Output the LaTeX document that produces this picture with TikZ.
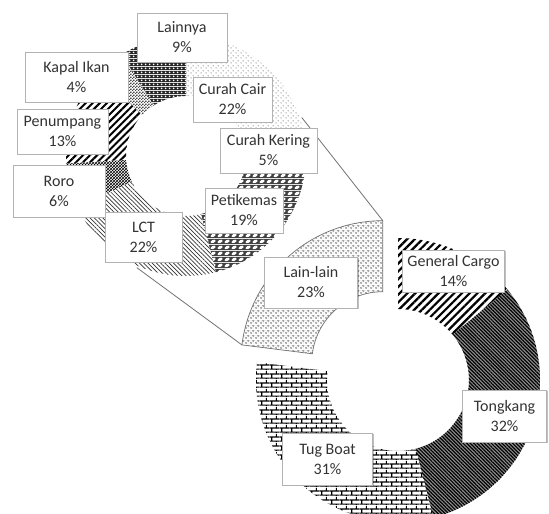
\documentclass[tikz,border=0pt]{standalone}
\usepackage{fontspec}
\setmainfont{Carlito}
\usetikzlibrary{patterns,patterns.meta,shadows,calc}

\tikzdeclarepattern{name=tugbricks, type=colored,
  bounding box={(0pt,0pt) and (10pt,9pt)}, tile size={(10pt,9pt)},
  code={
    \fill[white] (0pt,0pt) rectangle (10pt,9pt);
    \draw[line width=1.3pt, black] (0pt,1pt) -- (10pt,1pt) (0pt,5.5pt) -- (10pt,5.5pt)
      (2pt,1pt) -- (2pt,5.5pt) (7pt,5.5pt) -- (7pt,9pt) (7pt,0pt) -- (7pt,1pt);
  }}
\tikzdeclarepattern{name=shingle, type=colored,
  bounding box={(0pt,0pt) and (7pt,6pt)}, tile size={(7pt,6pt)},
  code={
    \fill[black!75] (0pt,0pt) rectangle (7pt,6pt);
    \fill[white, rotate around={25:(3.5pt,3pt)}] (3.5pt,3pt) ellipse [x radius=3pt, y radius=1.7pt];
  }}
\tikzdeclarepattern{name=spots, type=colored,
  bounding box={(0pt,0pt) and (4pt,4pt)}, tile size={(4pt,4pt)},
  code={
    \fill[black!85] (0pt,0pt) rectangle (4pt,4pt);
    \fill[white] (2pt,2pt) circle[radius=1.1pt];
  }}
\tikzdeclarepattern{name=sparsedots, type=colored,
  bounding box={(0pt,0pt) and (5pt,5pt)}, tile size={(5pt,5pt)},
  code={
    \fill[white] (0pt,0pt) rectangle (5pt,5pt);
    \fill[black!65] (1.25pt,1.25pt) circle[radius=0.6pt] (3.75pt,3.75pt) circle[radius=0.6pt];
  }}
\tikzdeclarepattern{name=smallcheck, type=colored,
  bounding box={(0pt,0pt) and (3pt,3pt)}, tile size={(3pt,3pt)},
  code={
    \fill[white] (0pt,0pt) rectangle (3pt,3pt);
    \fill[black!70] (0pt,0pt) rectangle (1.5pt,1.5pt) (1.5pt,1.5pt) rectangle (3pt,3pt);
  }}
\tikzdeclarepattern{name=waves, type=colored,
  bounding box={(0pt,0pt) and (6pt,4pt)}, tile size={(6pt,4pt)},
  code={
    \fill[white] (0pt,0pt) rectangle (6pt,4pt);
    \draw[black, line width=0.8pt] (0pt,2pt) .. controls (1.5pt,3.6pt) and (1.5pt,3.6pt) .. (3pt,2pt)
      .. controls (4.5pt,0.4pt) and (4.5pt,0.4pt) .. (6pt,2pt);
  }}
\tikzdeclarepattern{name=rings, type=colored,
  bounding box={(0pt,0pt) and (5pt,5pt)}, tile size={(5pt,5pt)},
  code={
    \fill[white] (0pt,0pt) rectangle (5pt,5pt);
    \draw[black!45, line width=0.45pt] (1.25pt,1.25pt) circle[radius=0.9pt] (3.75pt,3.75pt) circle[radius=0.9pt];
    \fill[black!25] (3.75pt,1.25pt) circle[radius=0.5pt] (1.25pt,3.75pt) circle[radius=0.5pt];
  }}

\newcommand{\dslice}[6]{%
  \path[#6] (#4:#2) arc[start angle=#4, end angle=#5, radius=#2]
    -- (#5:#3) arc[start angle=#5, end angle=#4, radius=#3] -- cycle;}

\tikzset{
  lbl/.style={draw=black!30, fill=white, line width=0.6pt, align=center,
    font=\fontsize{16}{20}\selectfont, text=black!80, inner sep=0pt,
    drop shadow={shadow xshift=1.2pt, shadow yshift=-1.2pt, fill=black, opacity=0.25}},
  conn/.style={draw=black!55, line width=0.8pt}
}

\begin{document}
\begin{tikzpicture}[x=1pt,y=-1pt]
\path[use as bounding box] (0,0) rectangle (549,514);
\clip (0,0) rectangle (549,514);
\fill[white] (0,0) rectangle (549,514);

\coordinate (U) at (186,156);
\coordinate (L) at (398,380);
\coordinate (LX) at (382.8,362.7);

% upper donut
\begin{scope}[shift={(U)}]
  \dslice{}{120}{60}{-90}{-10.8}{pattern=sparsedots}
  \dslice{}{120}{60}{-10.8}{7.2}{pattern=waves}
  \dslice{}{120}{60}{7.2}{75.6}{pattern=shingle}
  \dslice{}{120}{60}{75.6}{154.8}{preaction={fill=white}, pattern={Lines[angle=-45,distance=3pt,line width=0.7pt]}, pattern color=black!80}
  \dslice{}{120}{60}{154.8}{176.4}{preaction={fill=white}, pattern=crosshatch}
  \dslice{}{120}{60}{176.4}{223.2}{preaction={fill=white}, pattern={Lines[angle=45,distance=5pt,line width=2pt]}}
  \dslice{}{120}{60}{223.2}{237.6}{pattern=smallcheck}
  \dslice{}{120}{60}{237.6}{270}{pattern=spots}
\end{scope}

% lower donut
\begin{scope}[shift={(L)}]
  \dslice{}{142}{71}{-90}{-39.6}{preaction={fill=white}, pattern={Lines[angle=45,distance=5.5pt,line width=2.2pt]}}
  \dslice{}{142}{71}{-39.6}{75.6}{preaction={fill=black!45}, pattern={Lines[angle=-45,distance=2.5pt,line width=1.2pt]}}
  \dslice{}{142}{71}{75.6}{187.2}{pattern=tugbricks}
\end{scope}
\begin{scope}[shift={(LX)}]
  \dslice{}{142}{71}{187.2}{270}{pattern=rings, draw=black!55, line width=0.7pt}
\end{scope}

% connectors
\coordinate (ua) at ($(U)+(-18.4:122)$);
\coordinate (ub) at ($(U)+(113.8:122)$);
\coordinate (la) at ($(LX)+(270:142)$);
\coordinate (lb) at ($(LX)+(187.2:142)$);
\draw[conn] (ua) -- (la);
\draw[conn] (ub) -- (lb);

% labels
\node[lbl, minimum width=90pt, minimum height=49pt] (lainnya) at (182,37.5) {Lainnya\\9\%};
\node[lbl, minimum width=103pt, minimum height=50pt] (kapal) at (76.5,77) {Kapal Ikan\\4\%};
\node[lbl, minimum width=79pt, minimum height=45pt] (cair) at (232.5,99.5) {Curah Cair\\22\%};
\node[lbl, minimum width=97pt, minimum height=45pt] (kering) at (268.5,150.5) {Curah Kering\\5\%};
\node[lbl, minimum width=91pt, minimum height=45pt] (penumpang) at (62.5,131.5) {Penumpang\\13\%};
\node[lbl, minimum width=92pt, minimum height=52pt] (roro) at (59,191) {Roro\\6\%};
\node[lbl, minimum width=78pt, minimum height=45pt] (peti) at (244,210.5) {Petikemas\\19\%};
\node[lbl, minimum width=77pt, minimum height=50pt] (lct) at (143.5,237) {LCT\\22\%};
\node[lbl, minimum width=93pt, minimum height=51pt] (lain) at (311,282.5) {Lain-lain\\23\%};
\node[lbl, minimum width=102pt, minimum height=42pt] (gc) at (453.5,271) {General Cargo\\14\%};
\node[lbl, minimum width=84pt, minimum height=52pt] (tongkang) at (504.5,416) {Tongkang\\32\%};
\node[lbl, minimum width=90pt, minimum height=52pt] (tug) at (327.5,459) {Tug Boat\\31\%};
\end{tikzpicture}
\end{document}
